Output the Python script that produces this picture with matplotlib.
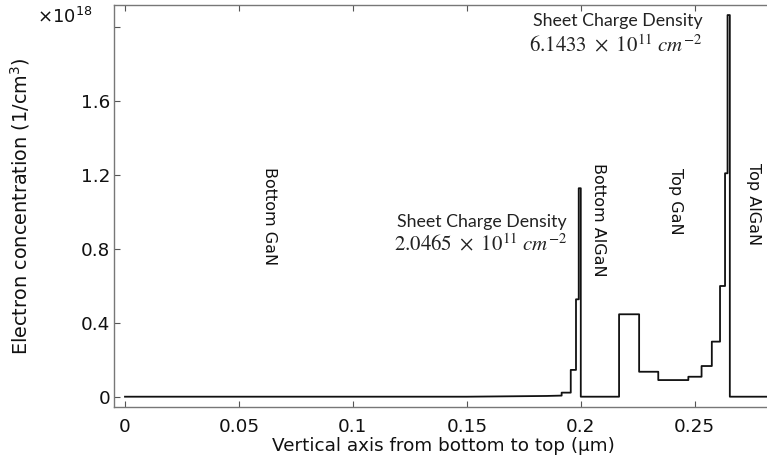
import numpy as np
import matplotlib.pyplot as plt

# electron concentration profile along the stack (x in um, n in 1e18 cm^-3)
pos_um = [0.0, 0.150, 0.185, 0.1916, 0.1916, 0.1956, 0.1956, 0.1979, 0.1979,
          0.1991, 0.1991, 0.2000, 0.2000, 0.2168, 0.2168, 0.2256, 0.2256,
          0.2340, 0.2340, 0.2472, 0.2472, 0.2530, 0.2530, 0.2575, 0.2575,
          0.2611, 0.2611, 0.2633, 0.2633, 0.2644, 0.2644, 0.2654, 0.2654, 0.2839]
conc_e18 = [0.0, 0.0, 0.004, 0.006, 0.022, 0.022, 0.145, 0.145, 0.527,
            0.527, 1.128, 1.128, 0.0, 0.0, 0.446, 0.446, 0.135,
            0.135, 0.090, 0.090, 0.108, 0.108, 0.166, 0.166, 0.298,
            0.298, 0.599, 0.599, 1.209, 1.209, 2.065, 2.065, 0.0, 0.0]

yticks = [0, 0.4, 0.8, 1.2, 1.6, 2.0]
ytick_labels = ['0', '0.4', '0.8', '1.2', '1.6', '']
xticks = [0, 0.05, 0.1, 0.15, 0.2, 0.25]
xtick_labels = ['0', '0.05', '0.1', '0.15', '0.2', '0.25']

sheet_bottom = r'$2.0465\ \times\ 10^{11}\ cm^{-2}$'
sheet_top = r'$6.1433\ \times\ 10^{11}\ cm^{-2}$'
layers = ['Bottom GaN', 'Bottom AlGaN', 'Top GaN', 'Top AlGaN']
layer_x = [0.0634, 0.2077, 0.2414, 0.2757]
layer_y = [0.978, 0.956, 1.059, 1.043]

fig = plt.figure(figsize=(7.67, 4.63), dpi=100)
ax = fig.add_axes([0.149, 0.1216, 0.8575, 0.8676])

ax.plot(pos_um, conc_e18, '-', color='#111111', lw=1.3)

ax.set_xlim(-0.0047, 0.2839)
ax.set_ylim(-0.0541, 2.1195)
ax.set_xticks(xticks)
ax.set_xticklabels(xtick_labels)
ax.set_yticks(yticks)
ax.set_yticklabels(ytick_labels)
ax.tick_params(direction='in', top=True, right=False, labelsize=13.2,
               length=4, width=0.8, color='#555555', labelcolor='#111111')
ax.tick_params(axis='x', pad=8)
ax.tick_params(axis='y', pad=3)
for sp in ax.spines.values():
    sp.set_color('#777777')
    sp.set_linewidth(1.0)
ax.spines['right'].set_visible(False)

ax.set_xlabel('Vertical axis from bottom to top (\u03bcm)', fontsize=13.2,
              color='#111111', labelpad=1)
ax.set_ylabel('Electron concentration (1/cm$^3$)', fontsize=13.9,
              color='#111111', labelpad=35)
fig.text(0.0478, 0.951, r'$\times$10$^{18}$', fontsize=13, color='#111111',
         ha='left', va='baseline')

# sheet charge annotations
ax.text(0.1565, 0.947, 'Sheet Charge Density', family='Lato', fontsize=12.8,
        color='#222222', ha='center', va='center')
ax.text(0.1562, 0.830, sheet_bottom, math_fontfamily='stix', fontsize=15,
        color='#222222', ha='center', va='center')
ax.text(0.2161, 2.035, 'Sheet Charge Density', family='Lato', fontsize=12.8,
        color='#222222', ha='center', va='center')
ax.text(0.2154, 1.903, sheet_top, math_fontfamily='stix', fontsize=15,
        color='#222222', ha='center', va='center')

for name, lx, ly in zip(layers, layer_x, layer_y):
    ax.text(lx, ly, name, rotation=-90, fontsize=11.5, color='#111111',
            ha='center', va='center')

fig.savefig('out.png', dpi=100)
